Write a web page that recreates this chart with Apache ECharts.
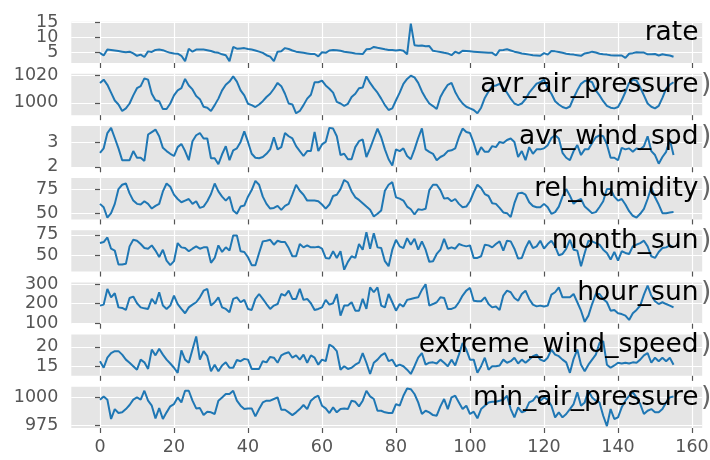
<!DOCTYPE html>
<html>
<head>
<meta charset="utf-8">
<script src="https://cdn.jsdelivr.net/npm/echarts@6/dist/echarts.min.js"></script>
<style>
html, body { margin: 0; padding: 0; background: #fff; }
#chart { width: 710px; height: 460px; }
</style>
</head>
<body>
<div id="chart"></div>
<script>
// panel names, top to bottom
const names = ['rate', 'avr_air_pressure', 'avr_wind_spd', 'rel_humidity', 'month_sun', 'hour_sun', 'extreme_wind_speed', 'min_air_pressure'];

const rate = [
    4.8, 3.9, 5.9, 5.8, 5.6, 5.4, 5.2, 5.0, 5.2, 4.6, 3.8, 4.2, 3.4, 5.3, 5.1, 5.8, 5.9, 5.7, 5.2, 4.8,
    4.6, 4.5, 3.8, 2.0, 6.2, 5.2, 5.9, 5.9, 5.9, 5.7, 5.4, 5.0, 4.8, 4.3, 4.0, 2.0, 6.8, 6.2, 6.3, 6.4,
    6.1, 5.9, 5.6, 5.2, 4.8, 4.0, 3.5, 2.0, 5.2, 5.3, 6.4, 6.1, 5.6, 5.2, 5.0, 4.8, 4.6, 4.4, 4.4, 3.6,
    5.0, 4.8, 5.6, 5.8, 5.7, 5.5, 5.2, 5.0, 4.8, 4.6, 4.5, 4.4, 6.0, 6.1, 6.8, 6.5, 6.3, 6.0, 5.8, 5.8,
    5.6, 5.8, 5.5, 4.3, 14.7, 7.4, 7.2, 7.3, 7.0, 7.1, 5.5, 5.3, 5.1, 4.8, 4.6, 4.0, 5.2, 4.6, 5.5, 5.4,
    5.3, 5.2, 5.1, 5.0, 4.9, 4.8, 4.8, 3.9, 5.7, 5.8, 6.0, 5.6, 5.2, 4.9, 4.6, 4.4, 4.2, 4.0, 3.9, 3.8,
    4.7, 4.2, 5.4, 5.3, 5.1, 4.8, 4.5, 4.3, 4.2, 4.0, 3.8, 4.6, 4.8, 5.2, 4.9, 4.5, 4.3, 4.2, 4.0, 3.9,
    3.9, 3.9, 3.1, 4.5, 4.7, 5.0, 4.9, 4.9, 4.3, 4.3, 4.4, 3.9, 4.3, 4.1, 3.9, 3.5
];

const avrAirPressure = [
    1014.7, 1017.1, 1013.3, 1007.5, 1001.7, 998.8, 994, 995.9, 999.5, 1005.5,
    1010.8, 1012.3, 1018, 1017.1, 1006.7, 1001.9, 1001.2, 995.4, 995.4, 999.5,
    1005.5, 1009.2, 1010.8, 1017.6, 1012.8, 1009.9, 1005.1, 1002.7, 997.1, 996.4,
    994, 998.3, 1003.1, 1009.2, 1013.3, 1015.7, 1019.5, 1015.7, 1009.2, 1005.5,
    999.3, 998.3, 996.9, 998.8, 1001.2, 1004.3, 1006.7, 1010.4, 1014.7, 1012.3,
    1006.7, 999.5, 998.8, 992.3, 994, 998.3, 1003.1, 1006, 1015.2, 1015.2,
    1016.4, 1012.8, 1010.4, 1007.5, 1000.7, 999.5, 997.8, 999.3, 1004.3, 1006.7,
    1010.8, 1011.3, 1019.5, 1014.7, 1010.8, 1007.5, 1003.1, 998.3, 994.7, 995.9,
    1001.9, 1007.5, 1014, 1017.6, 1020, 1018.8, 1014.7, 1008.4, 1003.6, 999.5,
    997.6, 995.4, 1004.3, 1009.2, 1013.3, 1014.7, 1008, 1003.1, 999.5, 997.1,
    995.9, 994.7, 992.3, 996.4, 1003.6, 1008.4, 1012.3, 1012.8, 1014, 1010.8,
    1007.5, 1003.1, 999.5, 998.3, 999.5, 1002.7, 1007.5, 1010.8, 1014.2, 1015.2,
    1017.1, 1010.8, 1006.7, 1001.2, 998.8, 996.9, 995.9, 997.3, 1003.6, 1009.2,
    1014, 1016.1, 1016.4, 1015.2, 1009.2, 1005.5, 1001.2, 997.8, 996.4, 995.9,
    996.9, 1001.9, 1008, 1014.7, 1017.1, 1016.4, 1011.3, 1005.5, 999.5, 997.1,
    995.9, 997.8, 1003.6, 1010.4, 1013.3, 1015.2
];

const avrWindSpd = [
    2.57, 2.75, 3.37, 3.58, 3.17, 2.75, 2.27, 2.27, 2.27, 2.64,
    2.37, 2.37, 2.24, 3.31, 3.41, 3.51, 3.24, 2.77, 2.64, 2.53,
    2.44, 2.8, 2.93, 2.64, 2.27, 3.04, 3.28, 3.37, 3.15, 3.15,
    2.35, 2.35, 2.11, 2.51, 2.84, 2.27, 2.67, 2.75, 3.01, 3.44,
    3.01, 2.53, 2.37, 2.35, 2.4, 2.53, 2.71, 3.2, 2.71, 2.8,
    3.37, 3.24, 3.15, 2.84, 2.64, 2.44, 2.64, 2.64, 3.41, 2.64,
    2.91, 3.01, 3.58, 3.55, 3.24, 2.48, 2.53, 2.31, 2.31, 2.8,
    3.04, 3.11, 2.4, 2.75, 3.15, 3.55, 3.2, 2.71, 2.31, 2.06,
    2.71, 2.64, 2.75, 2.44, 2.31, 2.71, 3.17, 3.56, 2.71, 2.61,
    2.53, 2.27, 2.4, 2.48, 2.64, 2.67, 2.75, 3.2, 3.55, 3.41,
    3.37, 2.97, 2.48, 2.8, 2.61, 2.61, 2.84, 2.8, 3.01, 2.97,
    3.09, 3.15, 3.01, 2.4, 2.64, 2.27, 2.8, 2.53, 2.71, 2.71,
    2.75, 2.88, 3.17, 3.28, 3.15, 2.57, 2.37, 2.27, 2.64, 2.88,
    2.48, 2.71, 2.71, 2.97, 3.2, 3.28, 3.24, 2.91, 2.37, 2.37,
    2.27, 2.77, 2.71, 2.75, 2.61, 2.75, 2.71, 2.84, 3.24, 2.64,
    2.48, 2.13, 2.4, 2.61, 3.11, 2.48
];

const relHumidity = [
    59.9, 56.3, 45.3, 50, 59.9, 75.7, 80.3, 81.7, 71.1, 63.4,
    59.9, 59.2, 62.7, 59.9, 54.9, 57.7, 59.9, 73.2, 81.7, 78.2,
    69.7, 65.1, 61.6, 63.4, 65.1, 59.9, 62.7, 55.6, 57, 62.7,
    70.4, 81.7, 73.2, 67.6, 63.4, 67.6, 52.8, 49.3, 57, 58.1,
    67.6, 74.6, 84.5, 80.3, 67.6, 59.9, 54.9, 55.6, 57.7, 53.5,
    57.7, 59.9, 69.7, 80.3, 73.9, 69.7, 63.4, 63.4, 63.4, 62.7,
    59.2, 54.9, 59.2, 68.3, 69.7, 75.7, 85.4, 82.7, 73.2, 66.9,
    64.1, 60.6, 57, 53.5, 46.5, 49.3, 52.8, 73.9, 80.3, 83.1,
    66.9, 65.5, 63.4, 57, 54.2, 48.6, 54.2, 53.5, 54.6, 74.6,
    80.3, 80.3, 74.6, 65.5, 66.2, 62.7, 65.1, 59.9, 56.3, 57,
    62.7, 72.2, 80.3, 76.8, 70.4, 68.3, 60.6, 59.9, 55.6, 50.7,
    50, 45.8, 60.6, 71.1, 71.8, 69.7, 61.6, 57.7, 56.3, 56.3,
    59.9, 56.3, 49.3, 51.1, 57, 67.6, 75.7, 68.7, 59.9, 63.4,
    65.1, 57, 53.5, 50, 51.1, 56.6, 62.7, 75.7, 75.7, 67.6,
    63.4, 65.1, 59.2, 52.1, 47.2, 45.3, 49.3, 54.6, 65.1, 77.5,
    66.9, 59.2, 50, 50, 50.7, 51.1
];

const monthSun = [
    65.1, 66.3, 71.8, 58.3, 56, 39.3, 39.3, 40.1, 61.1, 69,
    67.9, 63.9, 59.1, 58.3, 62.3, 56, 48.4, 57.1, 44, 38.5,
    43.3, 65.1, 59.9, 59.1, 55.2, 58.3, 61.1, 58.3, 59.9, 59.9,
    41.3, 47.2, 62.3, 54.4, 59.9, 56, 74.2, 74.2, 55.2, 54.4,
    48, 38.5, 38.5, 53.2, 67.1, 67.9, 69, 63.1, 67.9, 66.3,
    66.3, 59.1, 49.2, 49.2, 63.9, 59.9, 62.3, 59.9, 59.9, 60.7,
    58.3, 47.2, 46.4, 55.2, 47.2, 55.2, 33.1, 42.5, 49.2, 47.2,
    63.9, 57.1, 78.2, 58.3, 77, 59.9, 59.1, 43.3, 37.3, 57.1,
    69, 61.1, 59.1, 71, 63.1, 70.2, 57.1, 67.1, 57.1, 42.5,
    43.3, 52, 57.1, 70.2, 58.3, 59.9, 58.3, 63.9, 62.3, 61.1,
    62.3, 47.2, 47.2, 49.2, 63.1, 62.3, 59.9, 63.9, 67.1, 56,
    67.9, 67.1, 58.3, 46.4, 47.2, 59.1, 67.9, 59.1, 61.1, 67.9,
    58.3, 63.9, 67.9, 61.1, 50.4, 52, 58.3, 69, 57.1, 56,
    37.3, 53.2, 67.9, 67.1, 65.1, 63.1, 57.1, 53.2, 45.2, 54.4,
    44, 55.2, 53.2, 52, 61.1, 63.1, 65.1, 67.9, 61.1, 49.2,
    47.2, 54.4, 59.1, 59.9, 62.3, 59.9
];

const hourSun = [
    190, 195, 275, 232, 253, 181, 178, 168, 229, 236,
    202, 181, 176, 173, 224, 198, 258, 190, 173, 190,
    241, 198, 173, 151, 181, 195, 207, 232, 266, 275,
    190, 207, 232, 181, 173, 156, 224, 232, 207, 219,
    173, 168, 224, 249, 224, 198, 173, 190, 198, 249,
    241, 266, 224, 224, 275, 219, 224, 202, 168, 173,
    181, 219, 195, 202, 249, 139, 190, 190, 207, 164,
    164, 224, 173, 283, 258, 283, 190, 181, 249, 207,
    164, 198, 185, 219, 224, 229, 232, 270, 298.5, 190,
    198, 207, 232, 229, 173, 173, 181, 207, 241, 266,
    280, 215, 212, 212, 232, 198, 181, 185, 168, 241,
    266, 258, 229, 215, 249, 266, 224, 195, 186, 190,
    185, 190, 246, 258, 283, 232, 232, 232, 249, 207,
    164, 107.5, 139, 198, 249, 249, 224, 207, 164, 168,
    151, 147, 139, 117, 151, 168, 190, 246, 292, 241,
    212, 198, 207, 198, 190, 181
];

const extremeWindSpeed = [
    16.3, 14.6, 17.2, 18.4, 18.9, 18.9, 18, 16.7, 15.9, 15,
    14.1, 16.7, 16, 14.3, 19.3, 17.8, 19.5, 18, 16.7, 15.7,
    14.6, 13.3, 19.1, 16.7, 15.9, 19.3, 22.7, 16.7, 18.9, 17.6,
    13.7, 15.4, 13.7, 15.2, 16, 14.6, 14.6, 16.6, 16.3, 16.9,
    16.7, 14.3, 14.3, 14.3, 16.3, 16, 17.4, 17.2, 15.9, 17.8,
    18.3, 18.6, 17.2, 17.8, 16.7, 18, 15.9, 17.8, 17.2, 15.4,
    16.7, 16.3, 20.6, 20, 18.9, 14.1, 15, 14.3, 14.6, 15.4,
    15.9, 18.4, 15.9, 13.0, 15.9, 16.7, 17.8, 18.4, 16.3, 16.7,
    15, 15.4, 15, 14.1, 13.0, 15, 17.2, 18.4, 15.4, 15.9,
    16, 15.7, 16.7, 15.9, 15, 16.7, 15.2, 18, 21, 19.3,
    16.7, 16.7, 13.3, 15, 17.2, 14.1, 15, 15, 15.2, 16.7,
    15.9, 16.3, 17.2, 15.7, 16.7, 15.9, 16.7, 17.6, 18, 16.7,
    16.3, 17.2, 19.3, 18, 17.6, 16.7, 16, 13.3, 16.9, 19.3,
    15.4, 13.7, 15.4, 16.7, 18, 21, 21.5, 15.4, 14.6, 15.2,
    15.9, 15.7, 15.9, 15.7, 16, 15.9, 16.7, 17.8, 18.4, 15.9,
    17.2, 16.3, 17.2, 16.3, 17.2, 15.4
];

const minAirPressure = [
    998.2, 1001.2, 998.2, 980.5, 989.6, 986, 986.6, 989.6, 993.3, 998.2,
    1000.3, 998.2, 1006.4, 997.3, 992.7, 981.1, 990.5, 980.5, 986.6, 992.1,
    994.2, 1000.3, 995.7, 1006.4, 1006.4, 997.3, 990.2, 990.5, 984.1, 987.2,
    986.6, 985.1, 997.3, 1000.3, 1003.4, 1003.4, 1006.4, 997.3, 992.7, 989.6,
    990.2, 990.2, 982.9, 989.6, 995.7, 997.3, 997.3, 998.8, 1000.3, 989,
    989, 986.6, 984.1, 986.6, 989.6, 993.3, 989.6, 997.3, 1000.3, 1001.8,
    992.7, 990.2, 986, 991.2, 986.6, 989.6, 990.2, 989.6, 997.3, 996.3,
    992.1, 997.3, 1006.4, 1001.2, 998.8, 988.1, 988.1, 986.6, 986, 986,
    994.2, 992.7, 1001.8, 1008.4, 1007.8, 1003.4, 995.7, 985.1, 988.1, 986.6,
    984.1, 983.5, 992.1, 998.8, 989.6, 1000.3, 1001.8, 995.7, 989.6, 992.7,
    985.1, 987.2, 981.1, 989.6, 992.7, 995.7, 996.3, 996.3, 997.3, 998.2,
    1001.8, 989.6, 982, 991.2, 986.6, 988.1, 995.7, 997.3, 1001.8, 997.3,
    1000.3, 998.2, 992.7, 982, 986.6, 982, 985.1, 989.6, 994.2, 1004.9,
    992.7, 995.7, 1006.4, 1000.3, 997.3, 995.7, 983.5, 974, 989.6, 980.5,
    982, 991.2, 997.3, 1001.8, 1004.9, 1000.3, 994.2, 985.1, 988.1, 989.6,
    986.6, 986.6, 989.6, 995.7, 1000.3, 1001.2
];

const allSeries = [rate, avrAirPressure, avrWindSpd, relHumidity, monthSun, hourSun, extremeWindSpeed, minAirPressure];

// tick values
const xTicks = [0, 20, 40, 60, 80, 100, 120, 140, 160];
const yTicks = [[5, 10, 15], [1000, 1020], [2, 3], [50, 75], [50, 75], [100, 200, 300], [15, 20], [975, 1000]];
// labels echarts would drop for overlapping, drawn on a helper axis
const yTicksMid = [10];

const font = '"DejaVu Sans", sans-serif';
const gridLeft = 71.3, gridWidth = 630.9, gridTop = 21.7, gridStep = 52.14, gridHeight = 41.3;

// same 5% padding as matplotlib autoscale
const padMin = (lo, hi) => lo - 0.05 * (hi - lo);
const padMax = (lo, hi) => hi + 0.05 * (hi - lo);

const labelStyle = {
    hideOverlap: false,
    showMinLabel: true,
    showMaxLabel: true,
    formatter: v => String(v),
    color: '#555555',
    fontSize: 17.5,
    fontFamily: font,
    lineHeight: 14,
    margin: 13
};

const chartDom = document.getElementById('chart');
const myChart = echarts.init(chartDom, null, { renderer: 'canvas' });

const yAxes = names.map((n, p) => ({
    type: 'value',
    gridIndex: p,
    position: 'left',
    min: v => padMin(v.min, v.max),
    max: v => padMax(v.min, v.max),
    axisLine: { show: false },
    axisTick: { show: true, length: 5, customValues: yTicks[p], lineStyle: { color: '#555555', width: 1.2 } },
    axisLabel: Object.assign({ customValues: p === 0 ? [5, 15] : yTicks[p] }, labelStyle),
    splitLine: { show: true, lineStyle: { color: '#ffffff', width: 1.2 } }
}));
yAxes.push({
    type: 'value',
    gridIndex: 0,
    position: 'left',
    offset: 0,
    min: padMin(Math.min(...rate), Math.max(...rate)),
    max: padMax(Math.min(...rate), Math.max(...rate)),
    axisLine: { show: false },
    axisTick: { show: false },
    axisLabel: Object.assign({ customValues: yTicksMid }, labelStyle),
    splitLine: { show: false }
});

const option = {
    animation: false,
    backgroundColor: '#ffffff',
    grid: names.map((n, p) => ({
        left: gridLeft,
        top: gridTop + p * gridStep,
        width: gridWidth,
        height: gridHeight,
        outerBoundsMode: 'none',
        show: true,
        backgroundColor: '#E5E5E5',
        borderWidth: 0
    })),
    xAxis: names.map((n, p) => ({
        type: 'value',
        gridIndex: p,
        min: -7.75,
        max: 162.75,
        axisLine: { show: false },
        axisTick: { show: true, length: 5, customValues: xTicks, lineStyle: { color: '#555555', width: 1.2 } },
        axisLabel: { show: p === 7, customValues: xTicks, hideOverlap: false, color: '#555555', fontSize: 17.5, fontFamily: font, margin: 10 },
        splitLine: { show: true, lineStyle: { color: '#ffffff', width: 1.2 } }
    })),
    yAxis: yAxes,
    series: allSeries.map((vals, p) => ({
        name: names[p],
        type: 'line',
        xAxisIndex: p,
        yAxisIndex: p,
        data: vals.map((v, i) => [i, v]),
        symbol: 'none',
        lineStyle: { color: '#1f77b4', width: 2 },
        z: 3
    })),
    graphic: names.map((n, p) => ({
        type: 'text',
        x: 698.5,
        y: gridTop + p * gridStep + 11,
        z: 100,
        style: { text: n, font: '26.5px ' + font, fill: '#000000', align: 'right', verticalAlign: 'middle' }
    })).concat(names.slice(1).map((n, k) => ({
        type: 'text',
        x: 701,
        y: gridTop + (k + 1) * gridStep + 11,
        z: 100,
        style: { text: ')', font: '26.5px ' + font, fill: '#666666', align: 'left', verticalAlign: 'middle' }
    })))
};

myChart.setOption(option);
window.addEventListener('resize', () => myChart.resize());
</script>
</body>
</html>
